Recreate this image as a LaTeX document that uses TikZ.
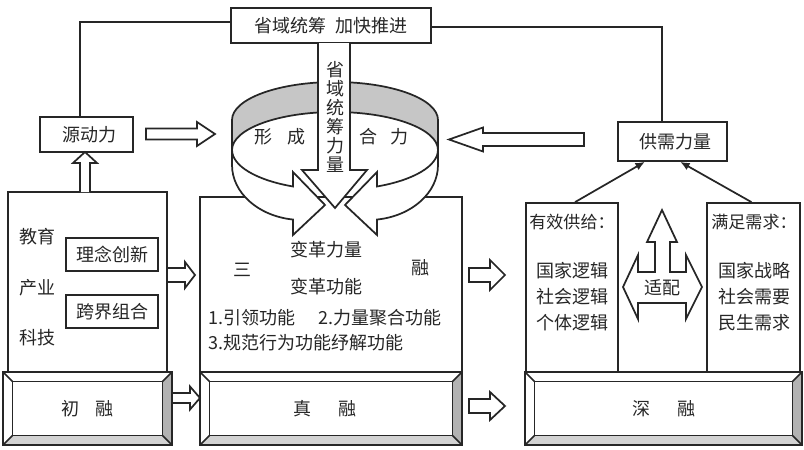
\documentclass[tikz,border=0pt]{standalone}
\usepackage{fontspec}
\newfontfamily\cjk{Noto Sans CJK SC}
\usetikzlibrary{fit,arrows.meta,calc}
\newcommand\bevelbox[5]{%
 \fill[gray!60] (#3,#2) -- (#3,#4) -- (#3-#5,#4-#5) -- (#3-#5,#2+#5) -- cycle;
 \fill[gray!35] (#1,#4) -- (#3,#4) -- (#3-#5,#4-#5) -- (#1+#5,#4-#5) -- cycle;
 \draw[ln] (#1,#2) rectangle (#3,#4);
 \draw[ln] (#1+#5,#2+#5) rectangle (#3-#5,#4-#5);
 \draw[ln] (#1,#2) -- (#1+#5,#2+#5) (#3,#2) -- (#3-#5,#2+#5)
           (#1,#4) -- (#1+#5,#4-#5) (#3,#4) -- (#3-#5,#4-#5);}
\newcommand\blockR[6]{% tail, headbase, tip, yc, shaft half, head half
 \draw[blk] (#1,#4-#5) -- (#2,#4-#5) -- (#2,#4-#6) -- (#3,#4) -- (#2,#4+#6) -- (#2,#4+#5) -- (#1,#4+#5) -- cycle;}
\begin{document}
\begin{tikzpicture}[x=0.75pt,y=-0.75pt,
 ln/.style={line width=1.3pt, draw=black!85},
 box/.style={ln, fill=white, inner sep=0pt},
 txt/.style={font=\cjk\fontsize{13.5}{16}\selectfont, text=black!85, inner sep=0pt},
 blk/.style={ln, fill=white, line join=miter}]
\useasboundingbox (0,0) rectangle (804,450);

% main boxes
\node[box, fit={(200,197)(462,372)}] (mid) {};
\node[box, fit={(8,192)(167,372)}] (lbox) {};
\node[box, fit={(526,203)(618,372)}] (col1) {};
\node[box, fit={(707,203)(800,372)}] (col2) {};

% bevel boxes
\bevelbox{3}{372}{172}{445}{9.5}
\bevelbox{200}{372}{462}{445}{9.5}
\bevelbox{525}{372}{802}{445}{9.5}
\node[txt] (chu) at (87.5,409) {初\hspace{0.9em}融};
\node[txt] (zhen) at (325,409) {真\hspace{1.45em}融};
\node[txt] (shen) at (664,409) {深\hspace{1.45em}融};

% top boxes
\node[box, fit={(231,8)(431,43)}] (top) {};
\node[txt] at (top.center) {省域统筹\hspace{0.5em}加快推进};
\node[box, fit={(40,117)(133,152)}] (src) {};
\node[txt] at (89,134.5) {源动力};
\node[box, fit={(618,122)(727,161)}] (sd) {};
\node[txt] at (675,141.5) {供需力量};

\coordinate (ly) at (0,22);
\coordinate (lx) at (80,0);
\coordinate (ry) at (0,27);
\coordinate (rx) at (662,0);
\draw[ln] (top.west |- ly) -| (src.north -| lx);
\draw[ln] (top.east |- ry) -| (sd.north -| rx);

% ring back band
\fill[gray!45] (232,120) arc[start angle=180, end angle=360, x radius=103, y radius=38]
  -- (438,150) arc[start angle=360, end angle=180, x radius=103, y radius=38] -- cycle;
\draw[ln] (232,150) -- (232,120) arc[start angle=180, end angle=360, x radius=103, y radius=38]
  -- (438,150) arc[start angle=360, end angle=180, x radius=103, y radius=38];

% front arrows of ring
\draw[blk] (232,150) -- (232,165) arc[start angle=180, end angle=97.4, x radius=70, y radius=55]
  -- (293,235) -- (325,205) -- (293,172) -- (293,186.5)
  arc[start angle=114.1, end angle=180, x radius=103, y radius=40] -- cycle;
\draw[blk] (438,150) -- (438,165) arc[start angle=0, end angle=82.6, x radius=70, y radius=55]
  -- (377,235) -- (345,205) -- (377,172) -- (377,186.5)
  arc[start angle=65.9, end angle=0, x radius=103, y radius=40] -- cycle;

\node[txt] at (280,137) {形\hspace{0.85em}成};
\node[txt] at (384,137) {合\hspace{0.75em}力};

% down arrow
\fill[white] (318,43) -- (318,170) -- (302,170) -- (335,208) -- (367,170) -- (350,170) -- (350,43) -- cycle;
\draw[ln, line join=miter] (318,43) -- (318,170) -- (302,170) -- (335,208) -- (367,170) -- (350,170) -- (350,43);
\node[txt, align=center, font=\cjk\fontsize{13.5}{14.25}\selectfont] (vt) at (335,116.5) {省\\域\\统\\筹\\力\\量};

% hollow arrows
\blockR{146}{197}{215}{134}{5.5}{12}
\draw[blk] (584,133) -- (483,133) -- (483,127.5) -- (449,139.5) -- (483,151.5) -- (483,146) -- (584,146) -- cycle;
\draw[blk] (80,192) -- (80,163) -- (73,163) -- (85,152) -- (97,163) -- (90,163) -- (90,192);
\blockR{167}{185}{195}{275}{7}{13}
\blockR{172}{190}{200}{398}{5}{11.5}
\blockR{469}{490}{505}{275}{7}{15}
\blockR{469}{490}{505}{406}{7}{14}

% left box contents
\node[txt] (jy) at (38,237) {教育};
\node[txt] (cy) at (38,288) {产业};
\node[txt] (kj) at (38,338) {科技};
\node[box, txt, fit={(66,238)(158,271)}] (lncx) {};
\node[txt] at (lncx.center) {理念创新};
\node[box, txt, fit={(66,295)(158,328)}] (kjzh) {};
\node[txt] at (kjzh.center) {跨界组合};

% middle contents
\node[txt] (san) at (242,270) {三};
\node[txt] (rong) at (420,268) {融};
\node[txt] (bglj) at (326,250) {变革力量};
\node[txt] (bggn) at (326,287) {变革功能};
\node[txt, anchor=west] (f12) at (208,318) {1.引领功能\hspace{1.3em}2.力量聚合功能};
\node[txt, anchor=west] (f3) at (208,343) {3.规范行为功能纾解功能};

% right contents
\node[txt, font=\cjk\fontsize{12.8}{16}\selectfont] (yx) at (572,222) {有效供给：};
\node[txt, align=center, font=\cjk\fontsize{13.5}{19.5}\selectfont] (lj) at (572,296.5) {国家逻辑\\社会逻辑\\个体逻辑};
\node[txt, font=\cjk\fontsize{12.8}{16}\selectfont] (mz) at (754,222) {满足需求：};
\node[txt, align=center, font=\cjk\fontsize{13.5}{19.5}\selectfont] (xq) at (754,296.5) {国家战略\\社会需要\\民生需求};

% adaptation arrow
\draw[blk] (623,287) -- (638,255) -- (638,272) -- (655,272) -- (655,242) -- (647,242) -- (662,210)
  -- (677,242) -- (670,242) -- (670,272) -- (686,272) -- (686,255) -- (702,287) -- (686,319)
  -- (686,303) -- (638,303) -- (638,319) -- cycle;
\node[txt] (sp) at (662,288) {适配};

% arrows to supply-demand
\draw[ln, -{Latex[length=7pt,width=6pt]}] ($(col1.north)+(3,0)$) -- ($(sd.south west)!0.25!(sd.south east)$);
\draw[ln, -{Latex[length=7pt,width=6pt]}] ($(col2.north)+(-2,0)$) -- ($(sd.south west)!0.57!(sd.south east)$);
\end{tikzpicture}
\end{document}
